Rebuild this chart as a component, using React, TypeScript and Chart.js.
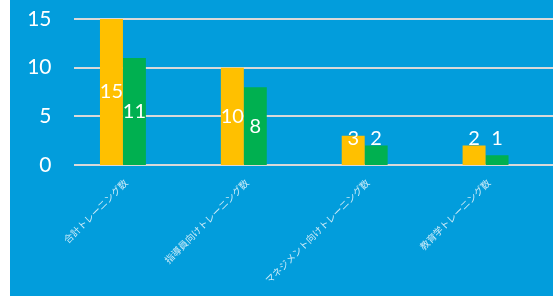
import React, { useEffect, useRef } from "react";
import { Chart, registerables } from "chart.js";

Chart.register(...registerables);

const categories = [
  "合計トレーニング数",
  "指導員向けトレーニング数",
  "マネジメント向けトレーニング数",
  "教育学トレーニング数",
];
const seriesA = [15, 10, 3, 2];
const seriesB = [11, 8, 2, 1];
const yTicks = [0, 5, 10, 15];

const BG = "#029DDC";

const gridPlugin = {
  id: "customGrid",
  beforeDatasetsDraw(chart: any) {
    const { ctx } = chart;
    const y = chart.scales.y;
    ctx.save();
    ctx.strokeStyle = "#D9D9D9";
    ctx.lineWidth = 2;
    yTicks.forEach((v) => {
      const py = Math.round(y.getPixelForValue(v));
      ctx.beginPath();
      ctx.moveTo(64, py);
      ctx.lineTo(chart.width, py);
      ctx.stroke();
    });
    ctx.restore();
  },
};

const labelPlugin = {
  id: "valueLabels",
  afterDatasetsDraw(chart: any) {
    const { ctx } = chart;
    ctx.save();
    ctx.fillStyle = "#FFFFFF";
    ctx.font = "20px Lato, 'Noto Sans', sans-serif";
    ctx.textAlign = "center";
    ctx.textBaseline = "middle";
    chart.data.datasets.forEach((ds: any, di: number) => {
      const meta = chart.getDatasetMeta(di);
      meta.data.forEach((el: any, i: number) => {
        const base = el.base;
        const center = (el.y + base) / 2;
        const cy = Math.min(center, base - 26);
        ctx.fillText(String(ds.data[i]), el.x, cy);
      });
    });
    ctx.restore();
  },
};

export default function App() {
  const ref = useRef<HTMLCanvasElement>(null);
  useEffect(() => {
    document.body.style.margin = "0";
    const chart = new Chart(ref.current!, {
      type: "bar",
      data: {
        labels: categories,
        datasets: [
          {
            label: "A",
            data: seriesA,
            backgroundColor: "#FFC000",
            categoryPercentage: 0.38,
            barPercentage: 1,
          },
          {
            label: "B",
            data: seriesB,
            backgroundColor: "#00B050",
            categoryPercentage: 0.38,
            barPercentage: 1,
          },
        ],
      },
      options: {
        animation: false,
        responsive: false,
        maintainAspectRatio: false,
        layout: { padding: { top: 19, right: 7, left: 0, bottom: 0 } },
        plugins: { legend: { display: false }, tooltip: { enabled: false } },
        scales: {
          x: {
            grid: { display: false, drawTicks: false },
            border: { display: false },
            ticks: {
              color: "rgba(255,255,255,0.8)",
              font: { size: 9.5, family: "'Noto Sans CJK JP', sans-serif" },
              maxRotation: 45,
              minRotation: 45,
              padding: 12,
              labelOffset: 3,
              autoSkip: false,
            },
            afterFit(scale: any) {
              scale.height = 131;
              scale.paddingLeft = 0;
              scale.paddingRight = 0;
            },
          },
          y: {
            min: 0,
            max: 15,
            grid: { display: false, drawTicks: false },
            border: { display: false },
            ticks: {
              stepSize: 5,
              color: "#FFFFFF",
              font: { size: 21, family: "Lato, 'Noto Sans', sans-serif" },
              padding: 11,
            },
            afterFit(scale: any) {
              scale.width = 52.5;
              scale.paddingTop = 0;
              scale.paddingBottom = 0;
            },
          },
        },
      },
      plugins: [gridPlugin, labelPlugin],
    });
    return () => chart.destroy();
  }, []);
  return (
    <div
      style={{
        position: "absolute",
        left: 10,
        top: 0,
        width: 543,
        height: 296,
        background: BG,
      }}
    >
      <canvas ref={ref} width={543} height={296} style={{ display: "block" }} />
    </div>
  );
}
